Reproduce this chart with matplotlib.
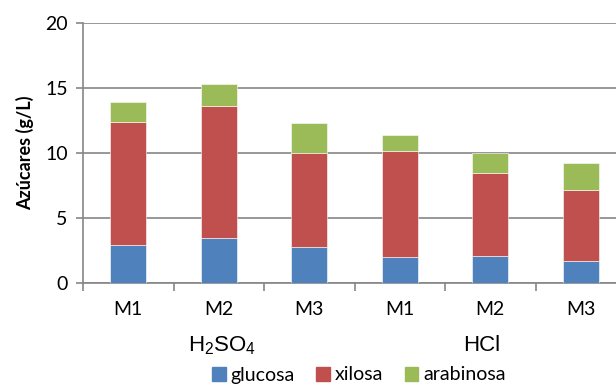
import numpy as np
import matplotlib
matplotlib.use('agg')
import matplotlib.pyplot as plt
from matplotlib.patches import Patch

## sugar concentrations (g/L)
muestras = ['M1', 'M2', 'M3', 'M1', 'M2', 'M3']
acidos = ['H$_2$SO$_4$', 'HCl']
glucosa = [2.9, 3.5, 2.8, 2.0, 2.1, 1.7]
xilosa = [9.5, 10.1, 7.2, 8.15, 6.4, 5.45]
arabinosa = [1.5, 1.7, 2.3, 1.25, 1.5, 2.05]

colores = ['#4F81BD', '#C0504D', '#9BBB59']
gris = '#868686'

plt.rcParams['font.family'] = ['Lato', 'DejaVu Sans']
plt.rcParams['mathtext.default'] = 'regular'

fig = plt.figure(figsize=(6.16, 3.84), dpi=100)
ax = fig.add_axes([83/616, 101/384, 543/616, 260/384])

x = np.arange(len(muestras))
g = np.array(glucosa)
xi = np.array(xilosa)
a = np.array(arabinosa)
w = 0.4
ax.bar(x, g, w, color=colores[0], edgecolor='white', linewidth=0.4, zorder=3)
ax.bar(x, xi, w, bottom=g, color=colores[1], edgecolor='white', linewidth=0.4, zorder=3)
ax.bar(x, a, w, bottom=g + xi, color=colores[2], edgecolor='white', linewidth=0.4, zorder=3)

ax.set_xlim(-0.5, len(muestras) - 0.5)
ax.set_ylim(0, 20)
ax.set_yticks([0, 5, 10, 15, 20])
ax.yaxis.grid(True, color=gris, linewidth=1.2, zorder=0)
ax.set_axisbelow(True)

# category boundaries as major ticks, names as minor ticks
ax.set_xticks(np.arange(len(muestras) + 1) - 0.5)
ax.set_xticklabels([])
ax.set_xticks(x, minor=True)
ax.set_xticklabels(muestras, minor=True, fontsize=14)
ax.tick_params(axis='x', which='major', length=6, color=gris, width=1.2, direction='out')
ax.tick_params(axis='x', which='minor', length=0, pad=13)
ax.tick_params(axis='y', length=5, color=gris, width=1.2, labelsize=14, pad=6)

for s in ['top', 'right']:
    ax.spines[s].set_visible(False)
for s in ['left', 'bottom']:
    ax.spines[s].set_color(gris)
    ax.spines[s].set_linewidth(1.2)

ax.set_ylabel('Azúcares (g/L)', fontsize=13, fontweight='bold', labelpad=8)

# acid group labels
pos_acido = [1.04, 3.91]
for p, ac in zip(pos_acido, acidos):
    ax.text(p, -0.24, ac, transform=ax.get_xaxis_transform(),
            ha='center', va='center', fontsize=16, family='Liberation Sans')

handles = [Patch(color=c) for c in colores]
fig.legend(handles, ['glucosa', 'xilosa', 'arabinosa'], loc='center',
           bbox_to_anchor=(359/616, 1 - 375/384), ncol=3, frameon=False,
           fontsize=14, handlelength=0.7, handleheight=0.7, handletextpad=0.25,
           columnspacing=1.1, borderpad=0)

plt.savefig('out.png', dpi=100)
